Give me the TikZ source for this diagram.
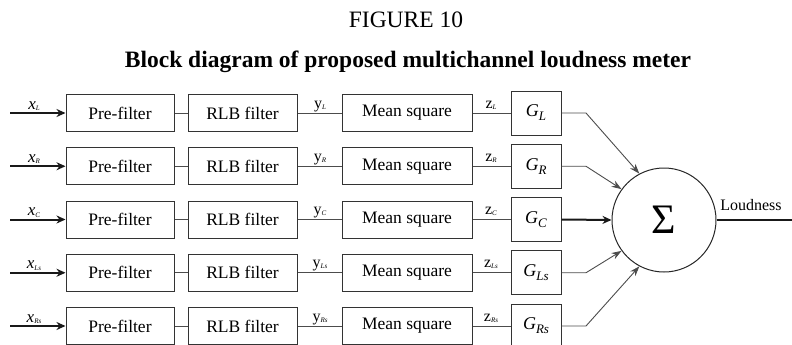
\documentclass[tikz,border=0pt]{standalone}
\usepackage{fontspec}
\setmainfont{Liberation Serif}
\usetikzlibrary{arrows.meta}
\newcommand\sigx[2]{{\fontsize{17}{17}\selectfont\itshape #1}\raisebox{-1.5pt}{\fontsize{7}{7}\selectfont\itshape #2}}
\newcommand\sigyz[2]{{\fontsize{16}{16}\selectfont #1}\raisebox{-1pt}{\fontsize{7}{7}\selectfont\itshape #2}}
\newcommand\gain[1]{{\fontsize{18}{18}\selectfont\itshape G}\raisebox{-4pt}{\fontsize{13}{13}\selectfont\itshape #1}}
\begin{document}
\begin{tikzpicture}[x=1pt,y=-1pt,
  blk/.style={draw=black!80,line width=1pt,minimum height=37pt,inner sep=0pt,font=\fontsize{17.5}{17.5}\selectfont},
  gbox/.style={draw=black!80,line width=1pt,minimum width=50pt,minimum height=44pt,inner sep=0pt},
  conn/.style={draw=black!70,line width=0.9pt},
  thinarrow/.style={conn,-{Stealth[length=10pt,width=7pt]}},
  thickarrow/.style={draw=black!90,line width=2pt,-{Stealth[length=9pt,width=8pt]}},
  lab/.style={anchor=base,inner sep=0pt}]
\useasboundingbox (0,0) rectangle (792,345);
\node[lab,font=\fontsize{23.5}{23.5}\selectfont] (fig) at (406,28) {FIGURE 10};
\node[lab,font=\fontsize{23.5}{23.5}\selectfont\bfseries] (ttl) at (408,67) {Block diagram of proposed multichannel loudness meter};
\node[circle,draw=black!85,line width=1pt,minimum size=104pt,inner sep=0pt] (sum) at (664,220) {\fontsize{42}{42}\selectfont Σ};
\foreach \n/\y/\s/\ang in {L/113/L/118, R/166.25/R/144, C/219.5/C/180, Ls/272.75/Ls/216, Rs/326/Rs/242}{
  \coordinate (in\n) at (10,\y);
  \node[blk,minimum width=108pt] (pre\n) at (120,\y) {Pre-filter};
  \node[blk,minimum width=109pt] (rlb\n) at (242.5,\y) {RLB filter};
  \node[blk,minimum width=130pt] (ms\n) at (407,\y) {Mean square};
  \node[gbox] (g\n) at (536,\y) {\gain{\s}};
  \node[lab] (xl\n) at (34,\y-4) {\sigx{x}{\s}};
  \node[lab] (yl\n) at (320,\y-5) {\sigyz{y}{\s}};
  \node[lab] (zl\n) at (491,\y-5) {\sigyz{z}{\s}};
  \draw[thickarrow] (in\n) -- (pre\n.west);
  \draw[conn] (pre\n.east) -- (rlb\n.west);
  \draw[conn] (rlb\n.east) -- (ms\n.west);
  \draw[conn] (ms\n.east) -- (g\n.west);
  \coordinate (b\n) at (586,\y);
}
\draw[thinarrow] (gL.east) -- (bL) -- (sum.118);
\draw[thinarrow] (gR.east) -- (bR) -- (sum.144);
\draw[thickarrow] (gC.east) -- (sum.180);
\draw[thinarrow] (gLs.east) -- (bLs) -- (sum.216);
\draw[thinarrow] (gRs.east) -- (bRs) -- (sum.242);
\coordinate (out) at (792,220);
\draw[draw=black!90,line width=2pt] (sum.east) -- (out);
\node[lab,font=\fontsize{16}{16}\selectfont] (loud) at (751,210) {Loudness};
\end{tikzpicture}
\end{document}
